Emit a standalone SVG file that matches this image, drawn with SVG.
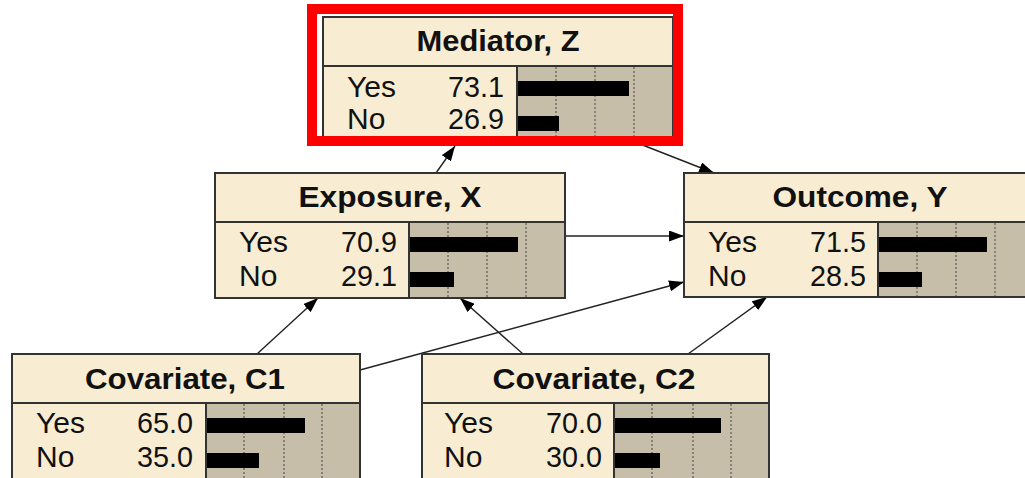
<svg xmlns="http://www.w3.org/2000/svg" width="1025" height="478" viewBox="0 0 1025 478">
<defs>
<style>
.box{fill:#F8EDD3;stroke:#333;stroke-width:2}
.pane{fill:#C7BEA9;stroke:#333;stroke-width:2}
.sep{stroke:#333;stroke-width:2}
.grid{stroke:#444;stroke-width:1;stroke-dasharray:2 2}
.bar{fill:#000}
.title{font-family:"Liberation Sans",Arial,sans-serif;font-weight:bold;font-size:29px;fill:#111;text-anchor:middle}
.lbl{font-family:"Liberation Sans",Arial,sans-serif;font-size:30px;fill:#111}
.val{font-family:"Liberation Sans",Arial,sans-serif;font-size:30px;fill:#111;text-anchor:end}
.edge{stroke:#222;stroke-width:1.4;fill:none;marker-end:url(#arr)}
</style>
<marker id="arr" markerUnits="userSpaceOnUse" markerWidth="15" markerHeight="11" refX="15" refY="5.5" orient="auto">
<path d="M0,0 L15,5.5 L0,11 z" fill="#000"/>
</marker>
</defs>
<rect width="1025" height="478" fill="#fff"/>
<g id="connectors">
<line class="edge" x1="436" y1="173" x2="455" y2="146"/>
<line class="edge" x1="640" y1="144" x2="714" y2="173"/>
<line class="edge" x1="565" y1="236" x2="684" y2="236"/>
<line class="edge" x1="257" y1="354" x2="318" y2="298"/>
<line class="edge" x1="523" y1="354" x2="460" y2="298"/>
<line class="edge" x1="360" y1="370" x2="684" y2="282"/>
<line class="edge" x1="688" y1="354" x2="767" y2="297"/>
</g>
<g id="node-mediator">
<rect class="box" x="323" y="17" width="350" height="125"/>
<rect class="pane" x="517" y="66" width="156" height="76"/>
<line class="sep" x1="323" y1="66" x2="673" y2="66"/>
<line class="grid" x1="556" y1="67" x2="556" y2="141"/>
<line class="grid" x1="595" y1="67" x2="595" y2="141"/>
<line class="grid" x1="634" y1="67" x2="634" y2="141"/>
<rect class="bar" x="518" y="81" width="111" height="15"/>
<rect class="bar" x="518" y="116" width="41" height="15"/>
<text class="title" x="498" y="51" textLength="163" lengthAdjust="spacingAndGlyphs">Mediator, Z</text>
<text class="lbl" x="347" y="97">Yes</text>
<text class="lbl" x="347" y="129">No</text>
<text class="val" x="504" y="97" textLength="56" lengthAdjust="spacingAndGlyphs">73.1</text>
<text class="val" x="504" y="129" textLength="56" lengthAdjust="spacingAndGlyphs">26.9</text>
</g>
<g id="node-exposure">
<rect class="box" x="215" y="173" width="350" height="125"/>
<rect class="pane" x="409" y="222" width="156" height="76"/>
<line class="sep" x1="215" y1="222" x2="565" y2="222"/>
<line class="grid" x1="448" y1="223" x2="448" y2="297"/>
<line class="grid" x1="487" y1="223" x2="487" y2="297"/>
<line class="grid" x1="526" y1="223" x2="526" y2="297"/>
<rect class="bar" x="410" y="237" width="108" height="15"/>
<rect class="bar" x="410" y="272" width="44" height="15"/>
<text class="title" x="390" y="207" textLength="183" lengthAdjust="spacingAndGlyphs">Exposure, X</text>
<text class="lbl" x="239" y="252">Yes</text>
<text class="lbl" x="239" y="286">No</text>
<text class="val" x="397" y="252" textLength="56" lengthAdjust="spacingAndGlyphs">70.9</text>
<text class="val" x="397" y="286" textLength="56" lengthAdjust="spacingAndGlyphs">29.1</text>
</g>
<g id="node-outcome">
<rect class="box" x="684" y="173" width="352" height="124"/>
<rect class="pane" x="878" y="222" width="158" height="75"/>
<line class="sep" x1="684" y1="222" x2="1036" y2="222"/>
<line class="grid" x1="917" y1="223" x2="917" y2="296"/>
<line class="grid" x1="956" y1="223" x2="956" y2="296"/>
<line class="grid" x1="995" y1="223" x2="995" y2="296"/>
<rect class="bar" x="879" y="237" width="108" height="15"/>
<rect class="bar" x="879" y="272" width="43" height="15"/>
<text class="title" x="860" y="207" textLength="175" lengthAdjust="spacingAndGlyphs">Outcome, Y</text>
<text class="lbl" x="708" y="252">Yes</text>
<text class="lbl" x="708" y="286">No</text>
<text class="val" x="866" y="252" textLength="56" lengthAdjust="spacingAndGlyphs">71.5</text>
<text class="val" x="866" y="286" textLength="56" lengthAdjust="spacingAndGlyphs">28.5</text>
</g>
<g id="node-c1">
<rect class="box" x="12" y="354" width="348" height="130"/>
<rect class="pane" x="206" y="403" width="154" height="81"/>
<line class="sep" x1="12" y1="403" x2="360" y2="403"/>
<line class="grid" x1="244" y1="404" x2="244" y2="478"/>
<line class="grid" x1="284" y1="404" x2="284" y2="478"/>
<line class="grid" x1="322" y1="404" x2="322" y2="478"/>
<rect class="bar" x="207" y="418" width="98" height="15"/>
<rect class="bar" x="207" y="453" width="52" height="15"/>
<text class="title" x="185" y="389" textLength="200" lengthAdjust="spacingAndGlyphs">Covariate, C1</text>
<text class="lbl" x="36" y="433">Yes</text>
<text class="lbl" x="36" y="467">No</text>
<text class="val" x="193" y="433" textLength="56" lengthAdjust="spacingAndGlyphs">65.0</text>
<text class="val" x="193" y="467" textLength="56" lengthAdjust="spacingAndGlyphs">35.0</text>
</g>
<g id="node-c2">
<rect class="box" x="422" y="354" width="347" height="130"/>
<rect class="pane" x="614" y="403" width="155" height="81"/>
<line class="sep" x1="422" y1="403" x2="769" y2="403"/>
<line class="grid" x1="652" y1="404" x2="652" y2="478"/>
<line class="grid" x1="693" y1="404" x2="693" y2="478"/>
<line class="grid" x1="731" y1="404" x2="731" y2="478"/>
<rect class="bar" x="615" y="418" width="106" height="15"/>
<rect class="bar" x="615" y="453" width="45" height="15"/>
<text class="title" x="594" y="389" textLength="203" lengthAdjust="spacingAndGlyphs">Covariate, C2</text>
<text class="lbl" x="444" y="433">Yes</text>
<text class="lbl" x="444" y="467">No</text>
<text class="val" x="602" y="433" textLength="56" lengthAdjust="spacingAndGlyphs">70.0</text>
<text class="val" x="602" y="467" textLength="56" lengthAdjust="spacingAndGlyphs">30.0</text>
</g>
<g id="highlight">
<rect x="312" y="9" width="366" height="132" fill="none" stroke="#FF0000" stroke-width="10"/>
</g>
</svg>
